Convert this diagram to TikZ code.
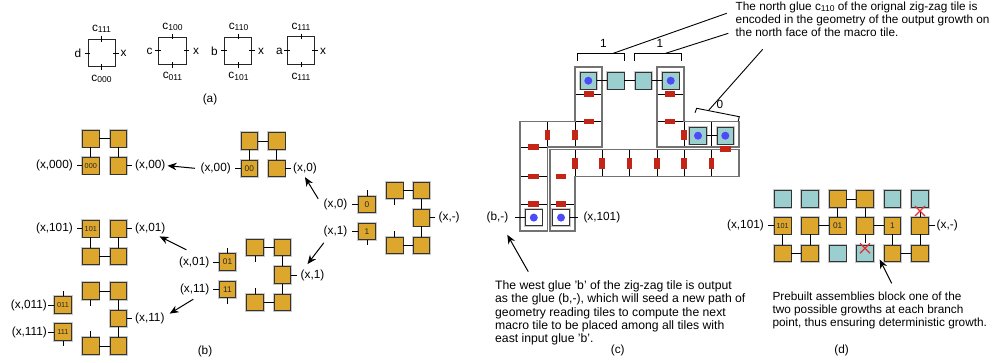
\documentclass[tikz,border=0pt]{standalone}
\usepackage{fontspec}
\setmainfont{Liberation Sans}
\usetikzlibrary{arrows.meta}
\definecolor{gold}{RGB}{221,167,45}
\definecolor{tealc}{RGB}{155,206,206}
\definecolor{dotblue}{RGB}{75,75,250}
\definecolor{redbar}{RGB}{195,38,22}
\definecolor{redx}{RGB}{235,45,45}
\newcommand{\sbs}[1]{\raisebox{-1.3pt}{\fontsize{8.5}{9}\selectfont #1}}
\newcommand{\lf}{\fontsize{11.8}{13.2}\selectfont}
\newcommand{\three}{\fontsize{7.3}{7.5}\selectfont}
\tikzset{
  lbl/.style={font=\lf, inner sep=0pt},
  asq/.style={draw=black!85, line width=0.9pt, minimum size=27.4pt, inner sep=0pt},
  tileb/.style={rectangle, draw=black!80, line width=0.8pt, minimum size=16.5pt, inner sep=0pt,
    preaction={draw=black!22, line width=2.6pt}, font=\fontsize{8.3}{8.5}\selectfont, text=black!85},
  gt/.style={tileb, fill=gold},
  tt/.style={tileb, fill=tealc},
  wt/.style={tileb, fill=white},
  bdot/.style={path picture={\fill[dotblue] (path picture bounding box.center) circle (4pt);}},
  conn/.style={line width=0.9pt},
  tconn/.style={line width=1.4pt},
  arr/.style={-{Stealth[length=9pt,width=7.5pt]}, line width=1pt},
  gl/.style={line width=0.75pt},
  frm/.style={draw=black!55, line width=1.1pt},
  hb/.style={fill=redbar, minimum width=10.7pt, minimum height=5.3pt, inner sep=0pt},
  vb/.style={fill=redbar, minimum width=5.3pt, minimum height=10.7pt, inner sep=0pt},
  rx/.style={draw=redx, line width=1.3pt},
}
\begin{document}
\begin{tikzpicture}[x=1pt,y=-1pt]
\useasboundingbox (0,0) rectangle (1001,362);
% ---------------- panel (a)
\node[asq] (a1) at (101.7,53) {};
\node[asq] (a2) at (172.3,50.7) {};
\node[asq] (a3) at (238,50.7) {};
\node[asq] (a4) at (301,50.5) {};
\foreach \n in {a1,a2,a3,a4}{
  \draw[conn] (\n.north)+(0,-2.7) -- +(0,2.7);
  \draw[conn] (\n.south)+(0,-2.7) -- +(0,2.7);
  \draw[conn] (\n.west)+(-2.7,0) -- +(2.7,0);
  \draw[conn] (\n.east)+(-2.7,0) -- +(2.7,0);
}
\node[lbl] (a1n) at (101.5,29) {c\sbs{111}};
\node[lbl] (a1s) at (101.5,79) {c\sbs{000}};
\node[lbl] (a1w) at (78,53) {d};
\node[lbl] (a1e) at (123.5,53) {x};
\node[lbl] (a2n) at (172.5,27) {c\sbs{100}};
\node[lbl] (a2s) at (172.5,76.5) {c\sbs{011}};
\node[lbl] (a2w) at (149.5,51) {c};
\node[lbl] (a2e) at (196,51) {x};
\node[lbl] (a3n) at (238.5,27) {c\sbs{110}};
\node[lbl] (a3s) at (238.5,76.5) {c\sbs{101}};
\node[lbl] (a3w) at (214.5,51) {b};
\node[lbl] (a3e) at (261,51) {x};
\node[lbl] (a4n) at (301,27) {c\sbs{111}};
\node[lbl] (a4s) at (301,76.5) {c\sbs{111}};
\node[lbl] (a4w) at (279.5,51) {a};
\node[lbl] (a4e) at (323,51) {x};
\node[lbl] (capa) at (210,99) {(a)};
% ---------------- panel (b)
% group A
\node[gt] (A1) at (90.8,138.7) {};
\node[gt] (A2) at (118.2,138.7) {};
\node[gt] (A3) at (90.8,165.7) {\three 000};
\node[gt] (A4) at (118.2,165.7) {};
\draw[conn] (A1)--(A2) (A1)--(A3) (A2)--(A4);
\draw[conn] (A3.west) -- ++(-5.5,0) (A4.east) -- ++(5.5,0);
\node[lbl,anchor=east] (Al) at (73,165.7) {(x,000)};
\node[lbl,anchor=west] (Ar) at (135,165.7) {(x,00)};
% group B
\node[gt] (B1) at (90.8,228.7) {\three 101};
\node[gt] (B2) at (118.2,228.7) {};
\node[gt] (B3) at (90.8,256.2) {};
\node[gt] (B4) at (118.2,256.2) {};
\draw[conn] (B1)--(B3) (B2)--(B4) (B3)--(B4);
\draw[conn] (B1.west) -- ++(-5.5,0) (B2.east) -- ++(5.5,0);
\node[lbl,anchor=east] (Bl) at (73,228.7) {(x,101)};
\node[lbl,anchor=west] (Br) at (135,228.7) {(x,01)};
% group C
\node[gt] (C1) at (63,305) {\three 011};
\node[gt] (C2) at (63,332) {\three 111};
\draw[conn] (C1.north) -- ++(0,-5.5) (C2.south) -- ++(0,5.5);
\draw[conn] (C1.west) -- ++(-6,0) (C2.west) -- ++(-6,0);
\node[lbl,anchor=east] (Cl1) at (47,305) {(x,011)};
\node[lbl,anchor=east] (Cl2) at (47,332) {(x,111)};
% group D
\node[gt] (D1) at (90.8,291) {};
\node[gt] (D2) at (118.2,291) {};
\node[gt] (D3) at (118.2,318.3) {};
\node[gt] (D4) at (90.8,346) {};
\node[gt] (D5) at (118.2,346) {};
\draw[conn] (D1)--(D2) (D2)--(D3) (D3)--(D5) (D4)--(D5);
\draw[conn] (D1.south) -- ++(0,6) (D4.north) -- ++(0,-6) (D3.east) -- ++(5.5,0);
\node[lbl,anchor=west] (Dr) at (135,318.3) {(x,11)};
% group E
\node[gt] (E1) at (249.3,141) {};
\node[gt] (E2) at (276.7,141) {};
\node[gt] (E3) at (249.3,168.3) {00};
\node[gt] (E4) at (276.7,168.3) {};
\draw[conn] (E1)--(E2) (E1)--(E3) (E2)--(E4);
\draw[conn] (E3.west) -- ++(-5.5,0) (E4.east) -- ++(5.5,0);
\node[lbl,anchor=east] (El) at (231,168.3) {(x,00)};
\node[lbl,anchor=west] (Er) at (293,168.3) {(x,0)};
% group F
\node[gt] (F1) at (367,204.2) {0};
\node[gt] (F2) at (367,231.3) {1};
\draw[conn] (F1.north) -- ++(0,-5.5) (F2.south) -- ++(0,5.5);
\draw[conn] (F1.west) -- ++(-6,0) (F2.west) -- ++(-6,0);
\node[lbl,anchor=east] (Fl1) at (347.5,204.2) {(x,0)};
\node[lbl,anchor=east] (Fl2) at (347.5,231.3) {(x,1)};
% group G
\node[gt] (G1) at (394.7,190.3) {};
\node[gt] (G2) at (421.3,190.3) {};
\node[gt] (G3) at (421.3,217.8) {};
\node[gt] (G4) at (394.7,245.3) {};
\node[gt] (G5) at (421.3,245.3) {};
\draw[conn] (G1)--(G2) (G2)--(G3) (G3)--(G5) (G4)--(G5);
\draw[conn] (G1.south) -- ++(0,6) (G4.north) -- ++(0,-6) (G3.east) -- ++(5.5,0);
\node[lbl,anchor=west] (Gr) at (438.5,217.8) {(x,-)};
% group H
\node[gt] (H1) at (255,247.5) {};
\node[gt] (H2) at (282.5,247.5) {};
\node[gt] (H3) at (282.5,275) {};
\node[gt] (H4) at (255,302.3) {};
\node[gt] (H5) at (282.5,302.3) {};
\draw[conn] (H1)--(H2) (H2)--(H3) (H3)--(H5) (H4)--(H5);
\draw[conn] (H1.south) -- ++(0,6) (H4.north) -- ++(0,-6) (H3.east) -- ++(5.5,0);
\node[lbl,anchor=west] (Hr) at (300.5,275) {(x,1)};
% group I
\node[gt] (I1) at (227.5,262) {01};
\node[gt] (I2) at (227.5,289.5) {11};
\draw[conn] (I1.north) -- ++(0,-5.5) (I2.south) -- ++(0,5.5);
\draw[conn] (I1.west) -- ++(-6,0) (I2.west) -- ++(-6,0);
\node[lbl,anchor=east] (Il1) at (209.5,262) {(x,01)};
\node[lbl,anchor=east] (Il2) at (209.5,289.5) {(x,11)};
% arrows (b)
\draw[arr] ([xshift=-5.5pt]El.west) -- ([xshift=2pt]Ar.east);
\draw[arr] ([shift={(7.5,-6.5)}]Il1.north west) -- ([shift={(-6,2)}]Br.south east);
\draw[arr] ([shift={(13.5,4)}]Il2.south west) -- ([shift={(5,1)}]Dr.north east);
\draw[arr] ([shift={(-5.3,0.3)}]Fl1.north west) -- ([shift={(0,3.2)}]Er.south);
\draw[arr] ([shift={(0.3,5.8)}]Fl2.south west) -- ([shift={(-5,-5.2)}]Hr.north);
\node[lbl] (capb) at (205,351.7) {(b)};
% ---------------- panel (c)
\draw[gl] (575,94) -- (602,94) (575,121.7) -- (602,121.7) (657,94) -- (684,94) (657,121.7) -- (684,121.7)
  (547.5,121.7) -- (547.5,147) (575,121.7) -- (575,147) (520,147) -- (547.5,147)
  (520,176.7) -- (547.5,176.7) (520,204) -- (547.5,204)
  (684,121.7) -- (684,147) (711.5,121.7) -- (711.5,147)
  (575,149.5) -- (575,176.7) (602,149.5) -- (602,176.7) (629.5,149.5) -- (629.5,176.7)
  (657,149.5) -- (657,176.7) (684,149.5) -- (684,176.7) (711.5,149.5) -- (711.5,176.7)
  (550,204) -- (575,204);
\draw[frm] (520,231) -- (520,121.7) -- (575,121.7) -- (575,67) -- (602,67) -- (602,147) -- (547.5,147) -- (547.5,231) -- cycle;
\draw[frm] (657,147) -- (657,67) -- (684,67) -- (684,121.7) -- (739,121.7) -- (739,147) -- cycle;
\draw[frm] (550,231) -- (550,149.5) -- (739,149.5) -- (739,176.7) -- (575,176.7) -- (575,231) -- cycle;
\foreach \p in {(589,94),(589,121.7),(670,94),(670,121.7),(533.5,147),(533.5,176.7),(533.5,204),(561,176.7),(561,204),(725.5,149)}
  \node[hb] at \p {};
\foreach \p in {(547.5,135),(575,135),(684,135),(575,163.3),(602,163.3),(629.5,163.3),(657,163.3),(684,163.3),(711.5,163.3)}
  \node[vb] at \p {};
\node[tt,bdot] (c1) at (588.3,80.7) {};
\node[tt] (c2) at (615.7,80.7) {};
\node[tt] (c3) at (643.3,80.7) {};
\node[tt,bdot] (c4) at (670.7,80.7) {};
\draw[tconn] (c1)--(c2) (c2)--(c3) (c3)--(c4);
\node[tt,bdot] (c5) at (698,135.7) {};
\node[tt,bdot] (c6) at (725.3,135.7) {};
\draw[tconn] (c5)--(c6);
\node[wt,bdot] (c7) at (533.8,217.6) {};
\node[wt,bdot] (c8) at (561,217.6) {};
\draw[conn] (c7.west) -- ++(-10,0) (c8.east) -- ++(8,0);
\node[lbl,anchor=east] (cbl) at (508.5,217.6) {(b,-)};
\node[lbl,anchor=west] (cxl) at (583.3,217.6) {(x,101)};
% brackets
\draw[conn] (577.3,60.7) -- (577.3,53.3) -- (624,53.3) -- (624,60.7);
\draw[conn] (634.3,60.7) -- (634.3,53.3) -- (681.7,53.3) -- (681.7,60.7);
\draw[conn] (695,112.7) -- (696.7,108.3) -- (739.3,116.7) -- (738.3,121);
\node[lbl] (one1) at (603.3,43.5) {1};
\node[lbl] (one2) at (660,43.5) {1};
\node[lbl] (zero) at (720,104.3) {0};
\node[lbl,anchor=north west,align=left] (ctop) at (735.5,1.5)
  {The north glue c\sbs{110} of the orignal zig-zag tile is\\encoded in the geometry of the output growth on\\the north face of the macro tile.};
\coordinate (b1m) at (613.3,53.3);
\coordinate (b2m) at (665.7,53.3);
\coordinate (b3m) at (708.5,110.5);
\coordinate (t1) at (726.7,13.3);
\coordinate (t2) at (728.3,33.3);
\coordinate (t3) at (762.7,49.3);
\draw[conn] (b1m) -- (t1) (b2m) -- (t2) (b3m) -- (t3);
\node[lbl,anchor=north west,align=left,font=\fontsize{12.2}{13.3}\selectfont] (ctxt) at (495,280.5)
  {The west glue 'b' of the zig-zag tile is output\\as the glue (b,-), which will seed a new path of\\geometry reading tiles to compute the next\\macro tile to be placed among all tiles with\\east input glue 'b'.};
\draw[arr] ([shift={(33.3,-8.8)}]ctxt.north west) -- ([shift={(-1.2,11.5)}]cbl.south east);
\node[lbl] (capc) at (617.7,350.7) {(c)};
% ---------------- panel (d)
\node[tt] (d11) at (782.7,199) {};
\node[tt] (d12) at (810,199) {};
\node[gt] (d13) at (837.7,199) {};
\node[gt] (d14) at (865,199) {};
\node[tt] (d15) at (892.3,199) {};
\node[tt] (d16) at (920,199) {};
\node[gt] (d21) at (782.7,225.7) {\three 101};
\node[gt] (d22) at (810,225.7) {};
\node[gt] (d23) at (837.7,225.7) {01};
\node[gt] (d24) at (865,225.7) {};
\node[gt] (d25) at (892.3,225.7) {1};
\node[gt] (d26) at (920,225.7) {};
\node[gt] (d31) at (782.7,253.3) {};
\node[gt] (d32) at (810,253.3) {};
\node[tt] (d33) at (837.7,253.3) {};
\node[tt] (d34) at (865,253.3) {};
\node[gt] (d35) at (892.3,253.3) {};
\node[gt] (d36) at (920,253.3) {};
\draw[conn] (d13)--(d14) (d13)--(d23) (d14)--(d24) (d22)--(d23) (d24)--(d25)
  (d21)--(d31) (d22)--(d32) (d31)--(d32) (d25)--(d35) (d26)--(d36) (d35)--(d36);
\draw[conn] (d24.south) -- ++(0,9) (d26.north) -- ++(0,-6);
\draw[conn] (d21.west) -- ++(-6,0) (d26.east) -- ++(6,0);
\draw[rx] (860,243.3) -- (870,253.3) (860,253.3) -- (870,243.3);
\draw[rx] (915,206) -- (925,216) (915,216) -- (925,206);
\node[lbl,anchor=east] (dl) at (764,225.7) {(x,101)};
\node[lbl,anchor=west] (dr) at (936.5,225.7) {(x,-)};
\node[lbl,anchor=north west,align=left] (dtxt) at (772.3,291.5)
  {Prebuilt assemblies block one of the\\two possible growths at each branch\\point, thus ensuring deterministic growth.};
\draw[arr] ([shift={(119.4,-8.2)}]dtxt.north west) -- ([shift={(6,-2.4)}]d34.south east);
\node[lbl] (capd) at (841.7,350) {(d)};
\end{tikzpicture}
\end{document}
